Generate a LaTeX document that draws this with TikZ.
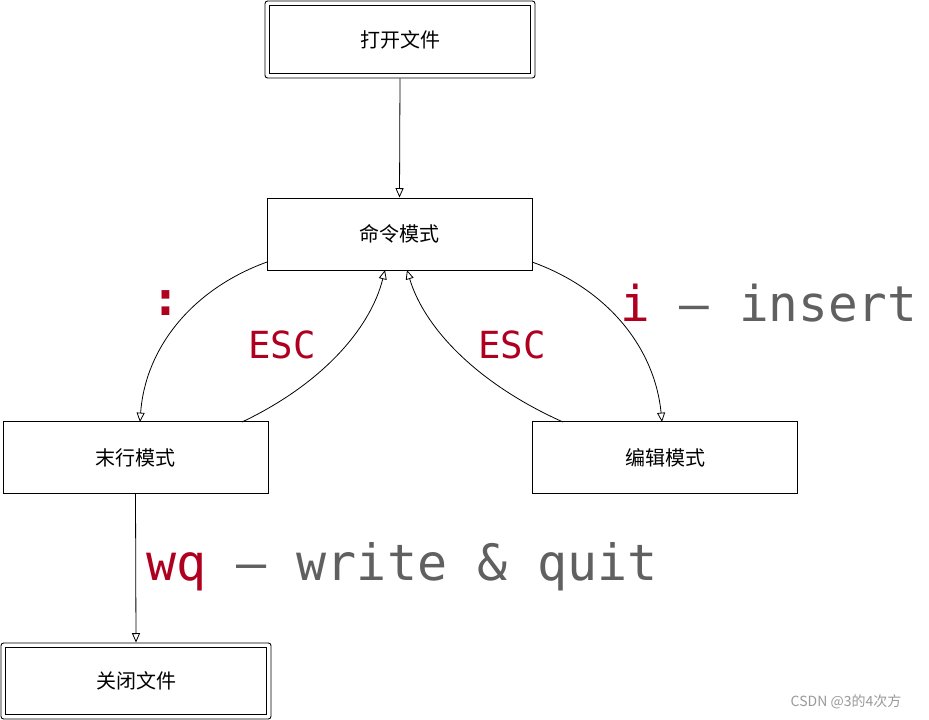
\documentclass[tikz,border=0pt]{standalone}
\usepackage{fontspec}
\setmainfont{Noto Sans CJK SC}
\setmonofont{DejaVu Sans Mono}
\usetikzlibrary{arrows.meta}
\definecolor{kred}{HTML}{B00020}
\definecolor{kgray}{HTML}{606060}
\begin{document}
\begin{tikzpicture}[x=0.75pt,y=-0.75pt,
  box/.style={draw,line width=0.7pt,minimum width=265*0.75pt,minimum height=72*0.75pt,inner sep=0pt,font=\fontsize{15}{17}\selectfont},
  inner/.style={draw,line width=1.4pt},
  arr/.style={-{Triangle[open,length=7pt,width=6pt]},line width=0.6pt},
  lab/.style={font=\ttfamily\fontsize{28}{30}\selectfont,inner sep=0pt}]
\useasboundingbox (0,0) rectangle (929,720);
\node[box,rounded corners=2pt,minimum width=270*0.75pt,minimum height=77*0.75pt] (open) at (400,39.5) {打开文件};
\draw[inner] ([shift={(5,-5)}]open.south west) rectangle ([shift={(-5,5)}]open.north east);
\node[box] (cmd) at (399.5,234) {命令模式};
\node[box] (last) at (135.5,457.5) {末行模式};
\node[box] (edit) at (665,457.5) {编辑模式};
\node[box,rounded corners=2pt,minimum width=270*0.75pt,minimum height=76*0.75pt] (close) at (136,681) {关闭文件};
\draw[inner] ([shift={(5,-5)}]close.south west) rectangle ([shift={(-5,5)}]close.north east);
\coordinate (c1) at (267,262); \coordinate (c2) at (532,262);
\coordinate (l1) at (140,422); \coordinate (l2) at (242,422);
\coordinate (e1) at (563,422); \coordinate (e2) at (662,422);
\coordinate (t1) at (385,270); \coordinate (t2) at (407,270);
\draw[arr] (open.south) -- (cmd.north);
\draw[arr] (c1) .. controls (190,290) and (145,350) .. (l1);
\draw[arr] (l2) .. controls (320,385) and (370,330) .. (t1);
\draw[arr] (e1) .. controls (480,385) and (425,330) .. (t2);
\draw[arr] (c2) .. controls (610,290) and (655,350) .. (e2);
\draw[arr] (last.south) -- (close.north);
\node[lab,text=kred,font=\ttfamily\bfseries\fontsize{36}{40}\selectfont] (colon) at (166,303) {:};
\node[lab,text=kred] (esc1) at (282,345) {ESC};
\node[lab,text=kred] (esc2) at (512,345) {ESC};
\node[lab,anchor=west,font=\ttfamily\fontsize{37}{40}\selectfont] (ins) at (620,303) {\textcolor{kred}{i}\textcolor{kgray}{\ – insert}};
\node[lab,anchor=west,font=\ttfamily\fontsize{37.5}{40}\selectfont] (wq) at (146,567) {\textcolor{kred}{wq}\textcolor{kgray}{\ – write \& quit}};
\node[font=\fontsize{10.5}{12}\selectfont,text=gray!80,inner sep=0pt] (wm) at (846,702) {CSDN @3的4次方};
\end{tikzpicture}
\end{document}
